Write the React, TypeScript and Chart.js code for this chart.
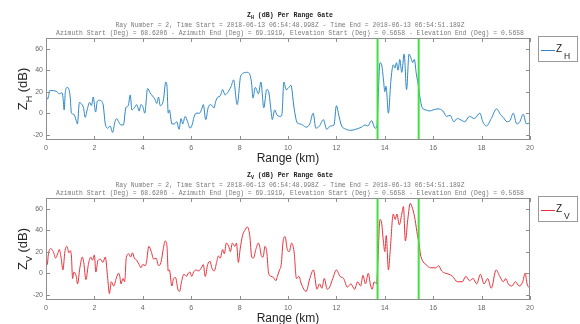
import React, { useEffect, useRef } from 'react';
import { Chart, registerables } from 'chart.js';
Chart.register(...registerables);

// ---------- data ----------
const xTicks = [0, 2, 4, 6, 8, 10, 12, 14, 16, 18, 20];
const yTicks = [-20, 0, 20, 40, 60];
const gateMarkers = [13.7, 15.4];
const Y_MIN = -25;
const Y_MAX = 70;

const zhKm = [0.00, 0.05, 0.10, 0.15, 0.30, 0.45, 0.55, 0.65, 0.70, 0.75, 0.80, 0.88, 0.95, 1.00, 1.05, 1.15, 1.25, 1.30, 1.38, 1.45, 1.55, 1.62, 1.70, 1.80, 1.88, 1.95, 2.05, 2.12, 2.20, 2.35, 2.45, 2.55, 2.65, 2.75, 2.85, 2.92, 3.00, 3.10, 3.20, 3.30, 3.40, 3.48, 3.55, 3.65, 3.75, 3.85, 3.92, 4.00, 4.08, 4.20, 4.30, 4.40, 4.50, 4.58, 4.65, 4.72, 4.85, 4.95, 5.00, 5.05, 5.10, 5.20, 5.30, 5.40, 5.50, 5.58, 5.65, 5.75, 5.85, 5.95, 6.05, 6.10, 6.20, 6.35, 6.45, 6.50, 6.60, 6.70, 6.80, 6.95, 7.00, 7.10, 7.20, 7.30, 7.40, 7.50, 7.65, 7.75, 7.90, 8.05, 8.30, 8.40, 8.50, 8.55, 8.65, 8.78, 8.88, 9.00, 9.12, 9.20, 9.30, 9.35, 9.45, 9.55, 9.70, 9.75, 9.83, 9.92, 10.00, 10.12, 10.25, 10.38, 10.50, 10.60, 10.75, 10.90, 11.04, 11.15, 11.30, 11.46, 11.60, 11.75, 11.90, 12.00, 12.10, 12.20, 12.40, 12.60, 12.80, 13.04, 13.18, 13.30, 13.45, 13.60, 13.68, 13.72, 13.80, 13.87, 13.95, 14.00, 14.05, 14.15, 14.25, 14.35, 14.42, 14.48, 14.55, 14.62, 14.70, 14.80, 14.90, 15.00, 15.10, 15.15, 15.22, 15.30, 15.40, 15.45, 15.55, 15.70, 15.85, 16.00, 16.20, 16.40, 16.55, 16.70, 16.85, 17.00, 17.20, 17.30, 17.50, 17.70, 17.93, 18.05, 18.20, 18.40, 18.62, 18.80, 18.90, 19.05, 19.17, 19.31, 19.45, 19.58, 19.72, 19.85, 20.00];
const zhDb = [19, 13, 15, 21, 21, 20, 18, 19, 15, 3, 20, 24, 22, 15, 0, -1, -7, -10, 10, 9, 5, -4, 3, 10, 7, 15, 1, 11, 12, 9, -10, -14, -12, -18, -8, -5, -8, -11, -11, 5, 7, 17, 3, 5, 8, 2, 8, 6, 0, 23, 19, 16, 13, 9, 15, 7, 12, 29, 25, 0, 3, -10, -10, -8, -15, -5, -10, -3, -8, -14, -10, -5, 0, 0, 5, 8, -6, 5, 8, 5, 10, 15, 16, 22, 17, 19, 25, 31, 8, 35, 38, 37, 27, 14, 24, 18, 29, 5, 22, 20, 2, -6, 3, -2, -3, -1, 29, 22, 23, 26, 5, -9, -10, -11, -13, -10, 0, -14, -12, -6, -15, -12, -11, 7, -2, -11, -15, -16, -15, -13, -11, -12, -7, -14, -12, 10, 47, 45, 30, 20, 25, 0, 30, 45, 42, 47, 40, 50, 38, 55, 22, 55, 50, 47, 50, 37, 24, 15, 5, 3, 2, 3, 4, 2, -3, -2, -8, -5, -7, -8, -3, -5, 0, -8, -12, -5, 4, -2, -4, -8, -7, 0, -10, -8, -1, -10, -9];

const zvKm = [0.00, 0.05, 0.10, 0.20, 0.30, 0.40, 0.48, 0.55, 0.62, 0.70, 0.78, 0.86, 0.95, 1.00, 1.05, 1.10, 1.15, 1.25, 1.30, 1.40, 1.50, 1.56, 1.65, 1.75, 1.85, 1.92, 2.00, 2.06, 2.15, 2.25, 2.35, 2.45, 2.55, 2.62, 2.70, 2.80, 2.90, 3.00, 3.05, 3.10, 3.18, 3.25, 3.32, 3.42, 3.50, 3.57, 3.65, 3.75, 3.85, 3.92, 4.00, 4.10, 4.15, 4.25, 4.35, 4.45, 4.55, 4.65, 4.75, 4.85, 4.92, 5.00, 5.05, 5.10, 5.20, 5.27, 5.35, 5.45, 5.52, 5.60, 5.70, 5.80, 5.88, 5.95, 6.02, 6.10, 6.20, 6.30, 6.42, 6.50, 6.58, 6.68, 6.78, 6.85, 6.95, 7.05, 7.12, 7.20, 7.30, 7.37, 7.45, 7.55, 7.62, 7.70, 7.80, 7.87, 7.95, 8.02, 8.12, 8.22, 8.32, 8.42, 8.50, 8.57, 8.67, 8.77, 8.83, 8.90, 8.97, 9.05, 9.12, 9.20, 9.30, 9.40, 9.50, 9.56, 9.65, 9.72, 9.80, 9.88, 9.97, 10.05, 10.15, 10.25, 10.35, 10.45, 10.55, 10.75, 10.90, 11.05, 11.20, 11.30, 11.40, 11.50, 11.62, 11.72, 11.85, 12.00, 12.15, 12.30, 12.45, 12.60, 12.75, 12.88, 13.00, 13.10, 13.20, 13.32, 13.40, 13.48, 13.56, 13.66, 13.72, 13.80, 13.86, 13.94, 14.00, 14.06, 14.15, 14.22, 14.35, 14.43, 14.50, 14.60, 14.70, 14.77, 14.85, 14.95, 15.05, 15.15, 15.25, 15.35, 15.42, 15.47, 15.55, 15.70, 15.90, 16.10, 16.22, 16.35, 16.50, 16.65, 16.80, 17.00, 17.20, 17.35, 17.50, 17.65, 17.80, 17.95, 18.10, 18.25, 18.40, 18.60, 18.75, 18.90, 19.00, 19.10, 19.25, 19.40, 19.55, 19.70, 19.80, 19.88, 19.95, 20.00];
const zvDb = [20, 8, 18, 23, 20, 14, 18, 22, 15, 3, 20, 25, 19, 21, 16, -5, 1, -3, -10, 5, 15, 10, -6, 8, 15, 12, 17, 1, 12, 13, 10, 15, -5, -19, -8, -12, -5, 0, -3, -10, -5, -8, 15, 18, 15, 19, 14, 12, 8, 5, 8, 7, 10, 25, 20, 13, 14, 7, 10, 23, 30, 25, 2, 3, -12, -5, -4, -15, -17, -8, -1, -3, 0, 1, -3, 1, 3, 2, 5, 8, -3, 8, 11, 5, 2, 10, 16, 14, 22, 18, 28, 25, 20, 28, 25, 28, 10, 22, 35, 40, 43, 35, 15, 14, 22, 28, 25, 16, 15, 25, 20, 0, -3, -4, -7, -3, 3, 8, 30, 34, 22, 20, 28, 20, -5, -3, -10, -17, -5, 3, -15, -10, -14, -5, -15, -13, -5, 3, -3, -5, -13, -10, -15, -8, -12, -2, -10, 0, -10, -15, -8, -10, 14, 50, 48, 30, 20, 35, 3, 20, 55, 50, 55, 45, 55, 62, 30, 50, 65, 60, 50, 35, 27, 18, 12, 8, 5, 5, 7, 2, 0, -1, -3, -8, -8, -3, -7, -5, -10, -1, -10, -5, -14, 3, -3, -8, -5, -10, -12, -8, -12, -8, 0, -10, -13, -13];

const headerLine1 = 'Ray Number = 2, Time Start = 2018-06-13 06:54:48.998Z - Time End = 2018-06-13 06:54:51.189Z';
const headerLine2 = 'Azimuth Start (Deg) = 68.6206 - Azimuth End (Deg) = 69.1919, Elevation Start (Deg) = 0.5658 - Elevation End (Deg) = 0.5658';

// ---------- styles ----------
const GREEN = '#3fe03f';
const MONO = '"Liberation Mono", "DejaVu Sans Mono", monospace';
const SANS = '"Liberation Sans", Arial, sans-serif';
const FRAME = '#8e8e8e';

function drawSub(ctx: CanvasRenderingContext2D, parts: { t: string; sub?: boolean }[], x: number, y: number, size: number, subSize: number, weight: string, family: string, align: 'center' | 'left') {
  const widths = parts.map((p) => {
    ctx.font = `${weight} ${p.sub ? subSize : size}px ${family}`;
    return ctx.measureText(p.t).width;
  });
  const total = widths.reduce((a, b) => a + b, 0);
  let cx = align === 'center' ? x - total / 2 : x;
  ctx.textAlign = 'left';
  ctx.textBaseline = 'alphabetic';
  parts.forEach((p, i) => {
    ctx.font = `${weight} ${p.sub ? subSize : size}px ${family}`;
    ctx.fillText(p.t, cx, p.sub ? y + size * 0.35 : y);
    cx += widths[i];
  });
}

function makePlugin(sub: string, color: string) {
  return {
    id: 'matlabDecor',
    afterDraw(chart: any) {
      const ctx: CanvasRenderingContext2D = chart.ctx;
      const { left, right, top, bottom } = chart.chartArea;
      const xs = chart.scales.x;
      const ys = chart.scales.y;
      ctx.save();
      // frame
      ctx.strokeStyle = FRAME;
      ctx.lineWidth = 1;
      ctx.strokeRect(Math.round(left) + 0.5, Math.round(top) + 0.5, Math.round(right - left) - 1, Math.round(bottom - top) - 1);
      // ticks
      ctx.beginPath();
      xs.ticks.forEach((t: any) => {
        const px = Math.round(xs.getPixelForValue(t.value)) + 0.5;
        ctx.moveTo(px, bottom);
        ctx.lineTo(px, bottom - 4);
        ctx.moveTo(px, top);
        ctx.lineTo(px, top + 4);
      });
      ys.ticks.forEach((t: any) => {
        const py = Math.round(ys.getPixelForValue(t.value)) + 0.5;
        ctx.moveTo(left, py);
        ctx.lineTo(left + 4, py);
        ctx.moveTo(right, py);
        ctx.lineTo(right - 4, py);
      });
      ctx.stroke();

      // header
      ctx.fillStyle = '#222';
      drawSub(ctx, [{ t: 'Z' }, { t: sub, sub: true }, { t: ' (dB) Per Range Gate' }], 290, 17, 6.6, 5, 'bold', MONO, 'center');
      ctx.fillStyle = '#7a7a7a';
      ctx.font = `6.4px ${MONO}`;
      ctx.textAlign = 'center';
      ctx.textBaseline = 'middle';
      ctx.fillText(headerLine1, 290, 25.5);
      ctx.fillText(headerLine2, 290, 33.5);

      // x label
      ctx.fillStyle = '#262626';
      ctx.font = `12px ${SANS}`;
      ctx.textAlign = 'center';
      ctx.textBaseline = 'alphabetic';
      ctx.fillText('Range (km)', (left + right) / 2, 162);

      // y label
      ctx.save();
      ctx.translate(27, (top + bottom) / 2);
      ctx.rotate(-Math.PI / 2);
      ctx.fillStyle = '#262626';
      drawSub(ctx, [{ t: 'Z' }, { t: sub, sub: true }, { t: ' (dB)' }], 0, 0, 13, 9, 'normal', SANS, 'center');
      ctx.restore();

      // legend
      ctx.fillStyle = '#ffffff';
      ctx.fillRect(538.5, 36.5, 39, 25);
      ctx.strokeStyle = '#9a9a9a';
      ctx.strokeRect(538.5, 36.5, 39, 25);
      ctx.strokeStyle = color;
      ctx.lineWidth = 1;
      ctx.beginPath();
      ctx.moveTo(541, 50.5);
      ctx.lineTo(555, 50.5);
      ctx.stroke();
      ctx.fillStyle = '#222';
      ctx.font = `10px ${SANS}`;
      ctx.textAlign = 'left';
      ctx.fillText('Z', 556, 52);
      ctx.font = `8.5px ${SANS}`;
      ctx.fillText(sub, 564, 58.7);
      ctx.restore();
    },
  };
}

function Panel({ km, db, color, sub, topPx, height }: { km: number[]; db: number[]; color: string; sub: string; topPx: number; height: number }) {
  const ref = useRef<HTMLCanvasElement>(null);
  useEffect(() => {
    const canvas = ref.current;
    if (!canvas) return;
    const tickFont = { size: 7, family: SANS };
    const chart = new Chart(canvas, {
      type: 'line',
      data: {
        datasets: [
          ...gateMarkers.map((g) => ({
            data: [{ x: g, y: Y_MIN }, { x: g, y: Y_MAX }],
            borderColor: GREEN,
            borderWidth: 2,
            pointRadius: 0,
            tension: 0,
            order: 0,
          })),
          {
            data: km.map((x, i) => ({ x, y: db[i] })),
            borderColor: color,
            borderWidth: 1,
            pointRadius: 0,
            cubicInterpolationMode: 'monotone',
            order: 1,
          },
        ],
      } as any,
      options: {
        animation: false,
        responsive: false,
        maintainAspectRatio: false,
        layout: { padding: { left: 0, right: 50, top: 38, bottom: 0 } },
        plugins: { legend: { display: false }, tooltip: { enabled: false }, title: { display: false } },
        scales: {
          x: {
            type: 'linear',
            min: 0,
            max: 20,
            grid: { display: false, drawTicks: false },
            border: { display: false },
            ticks: { font: tickFont, color: '#666', padding: 4, maxRotation: 0, autoSkip: false },
            afterBuildTicks: (s: any) => {
              s.ticks = xTicks.map((v) => ({ value: v }));
            },
            afterFit: (s: any) => {
              s.height = 26;
            },
          },
          y: {
            type: 'linear',
            min: Y_MIN,
            max: Y_MAX,
            grid: { display: false, drawTicks: false },
            border: { display: false },
            ticks: { font: tickFont, color: '#666', padding: 3, autoSkip: false },
            afterBuildTicks: (s: any) => {
              s.ticks = yTicks.map((v) => ({ value: v }));
            },
            afterFit: (s: any) => {
              s.width = 46;
            },
          },
        },
      } as any,
      plugins: [makePlugin(sub, color)],
    });
    return () => chart.destroy();
  }, [km, db, color, sub]);
  return (
    <canvas
      ref={ref}
      width={580}
      height={height}
      style={{ position: 'absolute', left: 0, top: topPx, width: 580, height }}
    />
  );
}

export default function App() {
  return (
    <div style={{ position: 'absolute', left: 0, top: 0, width: 580, height: 324, background: '#fff', overflow: 'hidden' }}>
      <Panel km={zhKm} db={zhDb} color="#2d86c6" sub="H" topPx={0} height={166} />
      <Panel km={zvKm} db={zvDb} color="#e8323a" sub="V" topPx={160} height={166} />
    </div>
  );
}
